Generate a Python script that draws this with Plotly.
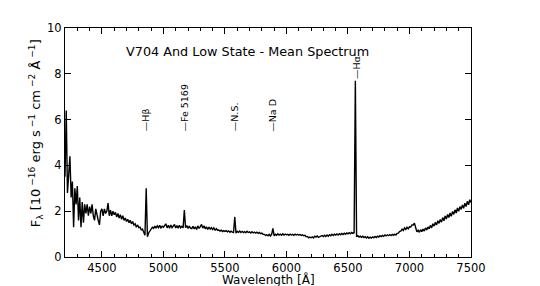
import plotly.graph_objects as go

# Wavelength grid (Angstrom), 10 A steps from 4200 to 7500
wavelength = list(range(4200, 7510, 10))

# Mean flux (1e-16 erg s^-1 cm^-2 A^-1), 10 values per 100 A
flux = [
    3.5, 6.4, 2.8, 3.6, 4.4, 2.6, 3.3, 1.3, 3.0, 2.3,          # 4200
    3.1, 1.6, 2.6, 1.3, 2.4, 1.5, 2.3, 1.9, 2.3, 1.8,          # 4300
    2.2, 1.9, 2.3, 1.8, 1.6, 2.1, 1.8, 1.6, 1.4, 2.0,          # 4400
    2.1, 1.8, 2.1, 1.9, 2.0, 2.35, 1.8, 2.05, 1.8, 2.0,        # 4500
    1.85, 1.95, 1.75, 1.9, 1.7, 1.85, 1.65, 1.8, 1.6, 1.7,     # 4600
    1.55, 1.65, 1.5, 1.6, 1.45, 1.55, 1.4, 1.45, 1.3, 1.4,     # 4700
    1.28, 1.3, 1.18, 1.22, 1.08, 0.95, 3.0, 0.88, 1.05, 1.15,  # 4800
    1.2, 1.3, 1.25, 1.35, 1.26, 1.36, 1.28, 1.38, 1.27, 1.34,  # 4900
    1.3, 1.36, 1.45, 1.27, 1.38, 1.26, 1.4, 1.28, 1.36, 1.42,  # 5000
    1.27, 1.37, 1.26, 1.38, 1.28, 1.34, 1.27, 2.05, 1.28, 1.37,# 5100
    1.25, 1.35, 1.26, 1.24, 1.34, 1.23, 1.32, 1.2, 1.36, 1.25, # 5200
    1.33, 1.42, 1.26, 1.36, 1.23, 1.32, 1.2, 1.31, 1.22, 1.28, # 5300
    1.2, 1.27, 1.16, 1.24, 1.17, 1.18, 1.13, 1.17, 1.11, 1.15, # 5400
    1.12, 1.15, 1.1, 1.14, 1.08, 1.13, 1.09, 1.07, 1.75, 1.04, # 5500
    1.12, 1.08, 1.13, 1.07, 1.12, 1.07, 1.11, 1.06, 1.12, 1.07,# 5600
    1.1, 1.05, 1.1, 1.05, 1.09, 1.04, 1.08, 1.03, 1.07, 1.02,  # 5700
    1.04, 0.99, 0.99, 0.94, 0.97, 0.93, 0.99, 0.92, 1.0, 1.25, # 5800
    0.92, 0.99, 0.95, 1.01, 0.96, 1.0, 0.95, 1.01, 0.96, 1.0,  # 5900
    0.97, 0.99, 0.95, 1.0, 0.96, 0.99, 0.95, 1.0, 0.96, 0.99,  # 6000
    0.96, 0.98, 0.94, 0.97, 0.93, 0.95, 0.89, 0.9, 0.84, 0.87, # 6100
    0.84, 0.88, 0.83, 0.91, 0.87, 0.92, 0.86, 0.88, 0.91, 0.94,# 6200
    0.89, 0.95, 0.9, 0.96, 0.91, 0.97, 0.93, 0.99, 0.94, 1.0,  # 6300
    0.96, 1.01, 0.96, 1.02, 0.97, 1.03, 0.98, 1.04, 0.99, 1.05,# 6400
    1.01, 1.06, 1.01, 1.07, 1.03, 1.06, 7.7, 0.88, 0.93, 0.87, # 6500
    0.91, 0.86, 0.91, 0.85, 0.89, 0.83, 0.88, 0.82, 0.87, 0.83,# 6600
    0.88, 0.84, 0.9, 0.85, 0.91, 0.87, 0.93, 0.89, 0.94, 0.9,  # 6700
    0.96, 0.92, 0.97, 0.93, 0.98, 0.94, 0.99, 0.95, 1.0, 0.96, # 6800
    1.03, 1.04, 1.12, 1.13, 1.22, 1.16, 1.27, 1.2, 1.3, 1.23,  # 6900
    1.32, 1.31, 1.4, 1.4, 1.48, 1.28, 1.1, 1.17, 1.08, 1.19,   # 7000
    1.11, 1.22, 1.13, 1.27, 1.18, 1.31, 1.23, 1.38, 1.27, 1.45,# 7100
    1.35, 1.51, 1.4, 1.58, 1.47, 1.64, 1.52, 1.72, 1.58, 1.79, # 7200
    1.66, 1.86, 1.72, 1.92, 1.78, 1.99, 1.86, 2.06, 1.92, 2.14,# 7300
    2.0, 2.2, 2.08, 2.27, 2.13, 2.35, 2.2, 2.43, 2.28, 2.5,    # 7400
    2.38,                                                      # 7500
]

# Line identifications
line_names = ["Hβ", "Fe 5169", "N.S.", "Na D", "Hα"]
line_waves = [4861, 5169, 5577, 5890, 6563]
line_label_y = [5.4, 5.4, 5.4, 5.4, 7.7]

title_text = "V704 And Low State - Mean Spectrum"

fig = go.Figure()
fig.add_trace(go.Scatter(x=wavelength, y=flux, mode="lines",
                         line=dict(color="black", width=1.4),
                         showlegend=False, hoverinfo="skip"))

for name, w, yy in zip(line_names, line_waves, line_label_y):
    fig.add_annotation(x=w, y=yy, xref="x", yref="y", text="—" + name,
                       textangle=-90, showarrow=False,
                       xanchor="center", yanchor="bottom",
                       font=dict(family="DejaVu Sans", size=9.5, color="black"))

fig.add_annotation(x=5680, y=8.98, xref="x", yref="y", text=title_text,
                   showarrow=False, xanchor="center", yanchor="middle",
                   font=dict(family="DejaVu Sans", size=12.8, color="black"))

# Axis titles as annotations for exact placement
fig.add_annotation(x=0.5, y=0, xref="paper", yref="paper", yshift=-22,
                   text="Wavelength [Å]", showarrow=False,
                   xanchor="center", yanchor="middle",
                   font=dict(family="DejaVu Sans", size=12, color="black"))
fig.add_annotation(x=0, y=0.54, xref="paper", yref="paper", xshift=-29,
                   text="F<sub>λ</sub> [10<sup> −16</sup> erg s<sup> −1</sup> cm<sup> −2</sup> Å<sup> −1</sup>]",
                   textangle=-90, showarrow=False,
                   xanchor="center", yanchor="middle",
                   font=dict(family="DejaVu Sans", size=13, color="black"))

axis_font = dict(family="DejaVu Sans", size=11.5, color="black")

fig.update_layout(
    width=540, height=286,
    margin=dict(l=65, r=69, t=28, b=29, autoexpand=False),
    paper_bgcolor="white", plot_bgcolor="white",
    font=dict(family="DejaVu Sans", color="black"),
    xaxis=dict(range=[4200, 7500], tickvals=[4500, 5000, 5500, 6000, 6500, 7000, 7500],
               ticks="inside", ticklen=6, tickwidth=1, tickcolor="black",
               showline=True, linecolor="black", linewidth=1, mirror="ticks",
               showgrid=False, zeroline=False, tickfont=axis_font, automargin=False,
               minor=dict(dtick=100, tick0=4200, ticks="inside", ticklen=3, tickcolor="black", showgrid=False)),
    yaxis=dict(range=[0, 10], tickvals=[0, 2, 4, 6, 8, 10],
               ticks="inside", ticklen=6, tickwidth=1, tickcolor="black",
               showline=True, linecolor="black", linewidth=1, mirror="ticks",
               showgrid=False, zeroline=False, tickfont=axis_font, automargin=False),
)

fig.write_html("out.html", config={"displayModeBar": False},
               post_script="document.body.style.margin='0';")
